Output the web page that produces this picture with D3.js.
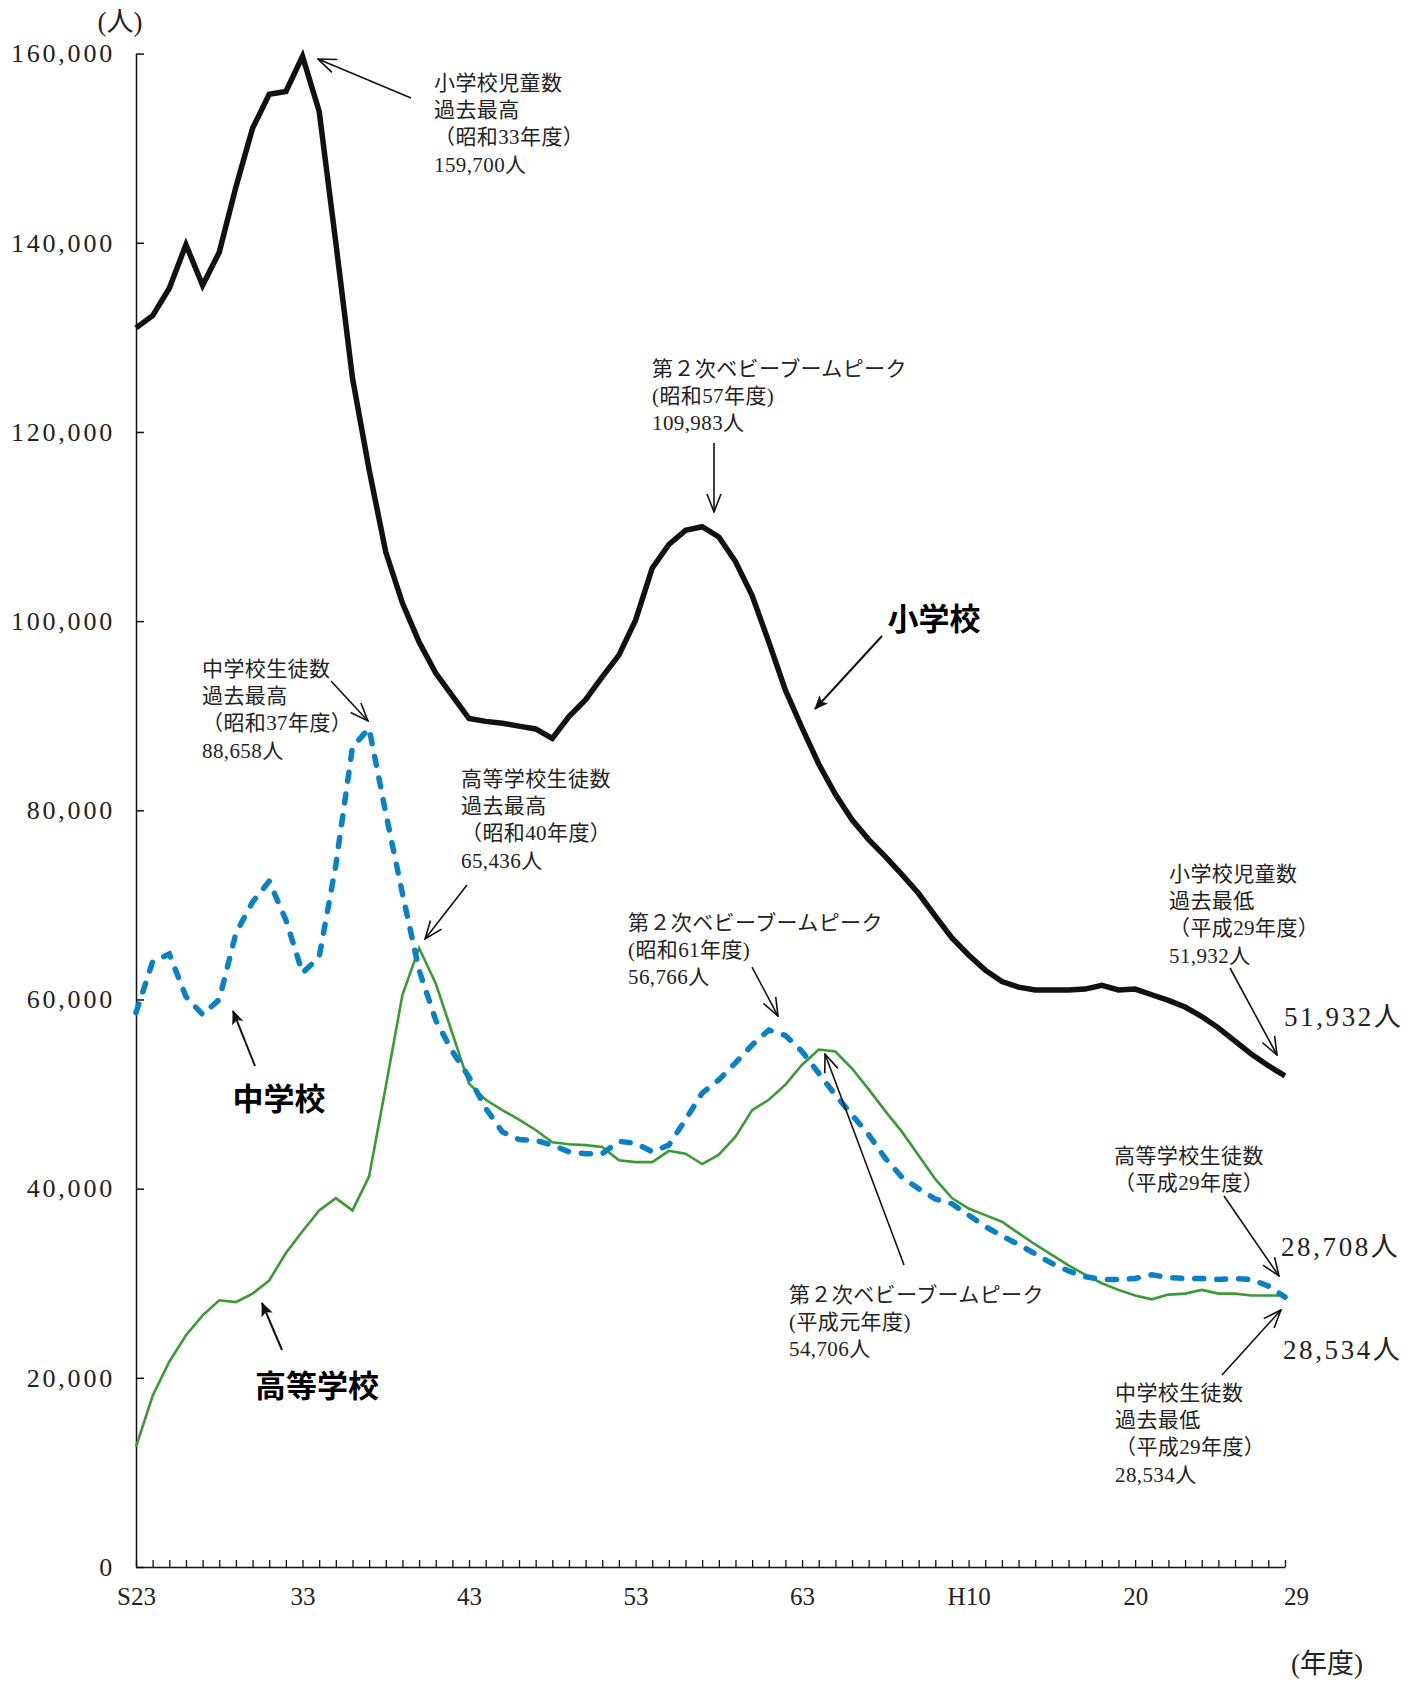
<!DOCTYPE html>
<html lang="ja">
<head>
<meta charset="utf-8">
<title>児童生徒数の推移</title>
<script src="https://cdn.jsdelivr.net/npm/d3@7"></script>
<style>
  body { margin: 0; background: #fff; }
  svg text { font-family: "Liberation Serif", "Noto Sans CJK JP", serif; fill: #222; }
  .note { font-size: 21px; letter-spacing: 0.4px; }
  .big { font-size: 27px; letter-spacing: 2.6px; }
  .bold { font-family: "Noto Sans CJK JP", sans-serif; font-weight: 700; font-size: 31px; fill: #000; }
</style>
</head>
<body>
<svg id="chart"></svg>
<script>
// 年度 (S23 .. H29)
const fiscalYears = [
  "S23","S24","S25","S26","S27","S28","S29","S30","S31","S32",
  "S33","S34","S35","S36","S37","S38","S39","S40","S41","S42",
  "S43","S44","S45","S46","S47","S48","S49","S50","S51","S52",
  "S53","S54","S55","S56","S57","S58","S59","S60","S61","S62",
  "S63","H1","H2","H3","H4","H5","H6","H7","H8","H9",
  "H10","H11","H12","H13","H14","H15","H16","H17","H18","H19",
  "H20","H21","H22","H23","H24","H25","H26","H27","H28","H29"
];

// 小学校 児童数
const elementary = [
  131000, 132300, 135200, 139800, 135500, 139000, 145900, 152100, 155700, 156000,
  159700, 153900, 140000, 125700, 116000, 107300, 101900, 97800, 94500, 92100,
  89700, 89400, 89200, 88900, 88600, 87600, 89900, 91700, 94100, 96400,
  100100, 105600, 108100, 109600, 109983, 108900, 106300, 102700, 97800, 92700,
  88700, 84900, 81700, 79000, 76900, 75100, 73200, 71200, 68800, 66500,
  64700, 63100, 61900, 61300, 61000, 61000, 61000, 61100, 61500, 61000,
  61100, 60500, 59900, 59200, 58200, 57000, 55600, 54200, 53000, 51932
];

// 中学校 生徒数
const juniorHigh = [
  58600, 64000, 64800, 60300, 58400, 60000, 67000, 70300, 72500, 68400,
  62800, 64500, 74200, 86700, 88658, 79700, 71200, 63100, 57800, 54500,
  51800, 48500, 46000, 45200, 45100, 44600, 43900, 43700, 43700, 45000,
  44800, 43900, 44600, 47300, 50100, 51500, 53300, 55200, 56766, 56200,
  54500, 52200, 49900, 47800, 45700, 43200, 41200, 40000, 38900, 38400,
  37200, 36000, 35000, 34100, 33100, 32100, 31300, 30700, 30400, 30400,
  30500, 30900, 30600, 30500, 30500, 30400, 30500, 30400, 29700, 28534
];

// 高等学校 生徒数
const highSchool = [
  12700, 18100, 21700, 24500, 26600, 28200, 28000, 28900, 30300, 33200,
  35500, 37700, 39000, 37700, 41300, 50800, 60500, 65436, 61700, 56400,
  51100, 49400, 48300, 47300, 46200, 44900, 44700, 44600, 44400, 43000,
  42800, 42800, 44000, 43700, 42600, 43600, 45500, 48300, 49400, 51000,
  53100, 54706, 54500, 52700, 50500, 48200, 46000, 43500, 41000, 39000,
  37900, 37200, 36500, 35300, 34100, 33000, 31900, 30900, 30000, 29300,
  28700, 28300, 28800, 28900, 29300, 28900, 28900, 28700, 28700, 28708
];

const tickYears = ["S23", "S33", "S43", "S53", "S63", "H10", "H20", "H29"];
const tickLabels = ["S23", "33", "43", "53", "63", "H10", "20", "29"];
const yTicks = [0, 20000, 40000, 60000, 80000, 100000, 120000, 140000, 160000];

const width = 1420;
const height = 1682;

const svg = d3.select("#chart")
  .attr("width", width)
  .attr("height", height);

svg.append("rect").attr("width", width).attr("height", height).attr("fill", "#fff");

// arrow heads
const defs = svg.append("defs");
defs.append("marker")
  .attr("id", "open")
  .attr("markerUnits", "userSpaceOnUse")
  .attr("viewBox", "0 0 20 16")
  .attr("refX", 19).attr("refY", 8)
  .attr("markerWidth", 20).attr("markerHeight", 16)
  .attr("orient", "auto")
  .append("path")
  .attr("d", "M1,1 L19,8 L1,15")
  .attr("fill", "none")
  .attr("stroke", "#111")
  .attr("stroke-width", 1.6);
defs.append("marker")
  .attr("id", "solid")
  .attr("markerUnits", "userSpaceOnUse")
  .attr("viewBox", "0 0 14 12")
  .attr("refX", 13).attr("refY", 6)
  .attr("markerWidth", 14).attr("markerHeight", 12)
  .attr("orient", "auto")
  .append("path")
  .attr("d", "M0,0 L14,6 L0,12 L3,6 Z")
  .attr("fill", "#111");

// scales
const x = d3.scalePoint().domain(fiscalYears).range([136, 1285]);
const y = d3.scaleLinear().domain([0, 160000]).range([1567, 53.6]);

// y axis
const yAxis = d3.axisLeft(y)
  .tickValues(yTicks)
  .tickSize(-8)
  .tickSizeOuter(0)
  .tickPadding(21)
  .tickFormat(d3.format(","));

const gy = svg.append("g")
  .attr("transform", "translate(136,0)")
  .attr("font-family", null)
  .attr("font-size", null)
  .call(yAxis);
gy.select(".domain").attr("stroke", "#111").attr("stroke-width", 1.5);
gy.selectAll(".tick line").attr("stroke", "#111").attr("stroke-width", 1.5);
gy.selectAll(".tick text")
  .style("font-size", "26px")
  .style("letter-spacing", "2.8px");

// x axis
const labelOf = {};
tickYears.forEach((d, i) => { labelOf[d] = tickLabels[i]; });

const xAxis = d3.axisBottom(x)
  .tickSize(-7)
  .tickSizeOuter(0)
  .tickPadding(20)
  .tickFormat(d => labelOf[d] || "");

const gx = svg.append("g")
  .attr("transform", "translate(0,1567)")
  .attr("font-family", null)
  .attr("font-size", null)
  .call(xAxis);
gx.select(".domain").attr("stroke", "#111").attr("stroke-width", 1.5);
gx.selectAll(".tick line").attr("stroke", "#111").attr("stroke-width", 1.3);
gx.selectAll(".tick text")
  .style("font-size", "25px")
  .attr("dx", d => (d === "H29" ? 11 : 0));

// lines
const line = d3.line()
  .x((d, i) => x(fiscalYears[i]))
  .y(d => y(d));

svg.append("path")
  .datum(highSchool)
  .attr("d", line)
  .attr("fill", "none")
  .attr("stroke", "#3a9a33")
  .attr("stroke-width", 2.6);

svg.append("path")
  .datum(juniorHigh)
  .attr("d", line)
  .attr("fill", "none")
  .attr("stroke", "#0a80c6")
  .attr("stroke-width", 5.5)
  .attr("stroke-dasharray", "9,13")
  .attr("stroke-linecap", "round");

svg.append("path")
  .datum(elementary)
  .attr("d", line)
  .attr("fill", "none")
  .attr("stroke", "#111")
  .attr("stroke-width", 5.5);

// unit labels
svg.append("text")
  .attr("x", 120).attr("y", 22).attr("dy", "0.35em")
  .attr("text-anchor", "middle")
  .style("font-size", "27px")
  .text("(人)");
svg.append("text")
  .attr("x", 1327).attr("y", 1664).attr("dy", "0.35em")
  .attr("text-anchor", "middle")
  .style("font-size", "27px")
  .text("(年度)");

// annotation notes
const notes = [
  { x: 434, y: 82, lines: ["小学校児童数", "過去最高", "（昭和33年度）", "159,700人"] },
  { x: 652, y: 368, lines: ["第２次ベビーブームピーク", "(昭和57年度)", "109,983人"] },
  { x: 202, y: 668, lines: ["中学校生徒数", "過去最高", "（昭和37年度）", "88,658人"] },
  { x: 461, y: 778, lines: ["高等学校生徒数", "過去最高", "（昭和40年度）", "65,436人"] },
  { x: 628, y: 922, lines: ["第２次ベビーブームピーク", "(昭和61年度)", "56,766人"] },
  { x: 1169, y: 873, lines: ["小学校児童数", "過去最低", "（平成29年度）", "51,932人"] },
  { x: 789, y: 1294, lines: ["第２次ベビーブームピーク", "(平成元年度)", "54,706人"] },
  { x: 1114, y: 1155, lines: ["高等学校生徒数", "（平成29年度）"] },
  { x: 1115, y: 1392, lines: ["中学校生徒数", "過去最低", "（平成29年度）", "28,534人"] }
];

notes.forEach(n => {
  const t = svg.append("text").attr("class", "note");
  n.lines.forEach((s, i) => {
    t.append("tspan")
      .attr("x", n.x)
      .attr("y", n.y + i * 27.4)
      .attr("dy", "0.36em")
      .text(s);
  });
});

// large end values
const endValues = [
  { x: 1284, y: 1016, text: "51,932人" },
  { x: 1281, y: 1246, text: "28,708人" },
  { x: 1283, y: 1349, text: "28,534人" }
];
svg.selectAll("text.big")
  .data(endValues)
  .join("text")
  .attr("class", "big")
  .attr("x", d => d.x)
  .attr("y", d => d.y)
  .attr("dy", "0.36em")
  .text(d => d.text);

// series names
const names = [
  { x: 934, y: 619, text: "小学校" },
  { x: 279, y: 1099, text: "中学校" },
  { x: 317, y: 1386, text: "高等学校" }
];
svg.selectAll("text.bold")
  .data(names)
  .join("text")
  .attr("class", "bold")
  .attr("x", d => d.x)
  .attr("y", d => d.y)
  .attr("dy", "0.36em")
  .attr("text-anchor", "middle")
  .text(d => d.text);

// arrows
const arrows = [
  { from: [411, 98], to: [318, 59], head: "open" },
  { from: [714, 443], to: [714, 512], head: "open" },
  { from: [882, 636], to: [815, 709], head: "solid" },
  { from: [331, 681], to: [368, 721], head: "open" },
  { from: [467, 885], to: [425, 939], head: "open" },
  { from: [752, 967], to: [778, 1016], head: "open" },
  { from: [1230, 968], to: [1277, 1055], head: "open" },
  { from: [255, 1066], to: [233, 1011], head: "solid" },
  { from: [282, 1350], to: [262, 1303], head: "solid" },
  { from: [904, 1265], to: [825, 1054], head: "open" },
  { from: [1224, 1196], to: [1279, 1276], head: "open" },
  { from: [1222, 1375], to: [1281, 1310], head: "open" }
];

svg.selectAll("line.arrow")
  .data(arrows)
  .join("line")
  .attr("class", "arrow")
  .attr("x1", d => d.from[0])
  .attr("y1", d => d.from[1])
  .attr("x2", d => d.to[0])
  .attr("y2", d => d.to[1])
  .attr("stroke", "#111")
  .attr("stroke-width", d => (d.head === "solid" ? 2 : 1.6))
  .attr("marker-end", d => `url(#${d.head})`);
</script>
</body>
</html>
